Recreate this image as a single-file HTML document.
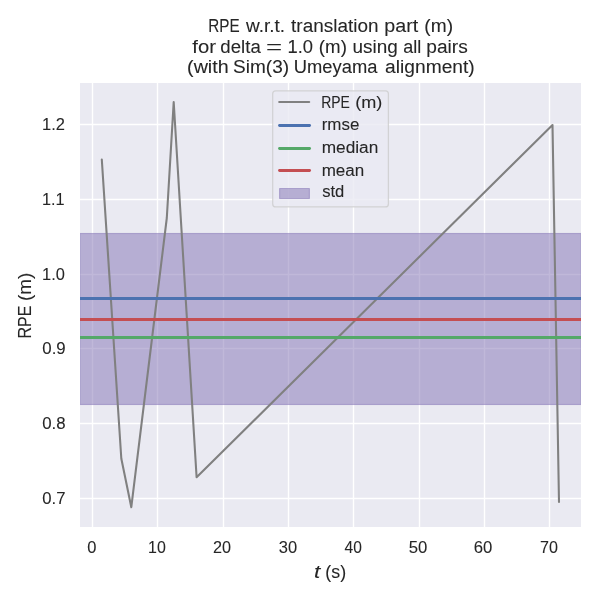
<!DOCTYPE html>
<html>
<head>
<meta charset="utf-8">
<title>RPE w.r.t. translation part (m)</title>
<style>
html,body{margin:0;padding:0;background:#ffffff;}
body{width:600px;height:600px;overflow:hidden;}
svg{display:block;will-change:transform;}
text{font-family:"Liberation Sans",sans-serif;fill:#262626;stroke:#262626;stroke-width:0.08px;}
.t12{font-size:17px;}
.t11{font-size:15.6px;}
</style>
</head>
<body>
<svg width="600" height="600" viewBox="0 0 600 600">
  <rect x="0" y="0" width="600" height="600" fill="#ffffff"/>
  <!-- axes background -->
  <rect x="80" y="83" width="501" height="444" fill="#eaeaf2"/>
  <clipPath id="ax"><rect x="80" y="83" width="501" height="444"/></clipPath>

  <!-- std band (under grid? no: grid is below, band above grid) -->
  <g clip-path="url(#ax)">
    <!-- grid -->
    <g stroke="#ffffff" stroke-width="1.39" fill="none">
      <line x1="92.5" y1="83" x2="92.5" y2="527"/>
      <line x1="157.5" y1="83" x2="157.5" y2="527"/>
      <line x1="223.5" y1="83" x2="223.5" y2="527"/>
      <line x1="288.5" y1="83" x2="288.5" y2="527"/>
      <line x1="353.5" y1="83" x2="353.5" y2="527"/>
      <line x1="419.5" y1="83" x2="419.5" y2="527"/>
      <line x1="484.5" y1="83" x2="484.5" y2="527"/>
      <line x1="549.5" y1="83" x2="549.5" y2="527"/>
      <line x1="80" y1="124.5" x2="581" y2="124.5"/>
      <line x1="80" y1="199.5" x2="581" y2="199.5"/>
      <line x1="80" y1="274.5" x2="581" y2="274.5"/>
      <line x1="80" y1="348.5" x2="581" y2="348.5"/>
      <line x1="80" y1="423.5" x2="581" y2="423.5"/>
      <line x1="80" y1="498.5" x2="581" y2="498.5"/>
    </g>
    <!-- std band -->
    <rect x="79.75" y="233.5" width="501.5" height="171" fill="#8172b3" fill-opacity="0.5" stroke="#8172b3" stroke-opacity="0.5" stroke-width="1.1"/>
    <!-- RPE line -->
    <polyline fill="none" stroke="#808080" stroke-width="2.08" stroke-linejoin="round" stroke-linecap="round"
      points="101.8,159.5 121.3,458.5 131.3,507.2 155.5,310 166.8,218 173.7,102 196.6,477.3 552.5,125 559,502"/>
    <!-- rmse / median / mean -->
    <line x1="80" y1="298.5" x2="581" y2="298.5" stroke="#4c72b0" stroke-width="2.78"/>
    <line x1="80" y1="337.5" x2="581" y2="337.5" stroke="#55a868" stroke-width="2.78"/>
    <line x1="80" y1="319.5" x2="581" y2="319.5" stroke="#c44e52" stroke-width="2.78"/>
  </g>

  <!-- legend -->
  <rect x="272.7" y="90.8" width="115.7" height="116.1" rx="3" ry="3" fill="#eaeaf2" fill-opacity="0.8" stroke="#cccccc" stroke-opacity="0.8" stroke-width="1.25"/>
  <line x1="279.2" y1="101.95" x2="309.2" y2="101.95" stroke="#808080" stroke-width="2.08" stroke-linecap="round"/>
  <line x1="279.5" y1="125.5" x2="309.6" y2="125.5" stroke="#4c72b0" stroke-width="2.78" stroke-linecap="round"/>
  <line x1="279.5" y1="148.5" x2="309.6" y2="148.5" stroke="#55a868" stroke-width="2.78" stroke-linecap="round"/>
  <line x1="279.5" y1="170.5" x2="309.6" y2="170.5" stroke="#c44e52" stroke-width="2.78" stroke-linecap="round"/>
  <rect x="279.6" y="188.5" width="29.8" height="10" fill="#8172b3" fill-opacity="0.5" stroke="#8172b3" stroke-opacity="0.5" stroke-width="1.1" stroke-linejoin="round"/>
  <!-- text -->
  <text x="208.21" y="31.6" font-size="17.5" textLength="31.35" lengthAdjust="spacingAndGlyphs">RPE</text>
  <text x="246.06" y="31.6" font-size="17.5" textLength="39.07" lengthAdjust="spacingAndGlyphs">w.r.t.</text>
  <text x="291.12" y="31.6" font-size="17.5" textLength="87.39" lengthAdjust="spacingAndGlyphs">translation</text>
  <text x="384.30" y="31.6" font-size="17.5" textLength="33.93" lengthAdjust="spacingAndGlyphs">part</text>
  <text x="424.36" y="31.6" font-size="17.5" textLength="28.68" lengthAdjust="spacingAndGlyphs">(m)</text>
  <text x="192.37" y="52.5" font-size="17.5" textLength="23.65" lengthAdjust="spacingAndGlyphs">for</text>
  <text x="220.38" y="52.5" font-size="17.5" textLength="40.37" lengthAdjust="spacingAndGlyphs">delta</text>
  <text x="265.92" y="52.5" font-size="17.5" textLength="16.15" lengthAdjust="spacingAndGlyphs">=</text>
  <text x="287.55" y="52.5" font-size="17.5" textLength="25.52" lengthAdjust="spacingAndGlyphs">1.0</text>
  <text x="318.89" y="52.5" font-size="17.5" textLength="27.99" lengthAdjust="spacingAndGlyphs">(m)</text>
  <text x="352.60" y="52.5" font-size="17.5" textLength="45.27" lengthAdjust="spacingAndGlyphs">using</text>
  <text x="403.37" y="52.5" font-size="17.5" textLength="18.02" lengthAdjust="spacingAndGlyphs">all</text>
  <text x="426.33" y="52.5" font-size="17.5" textLength="41.44" lengthAdjust="spacingAndGlyphs">pairs</text>
  <text x="187.08" y="73.4" font-size="17.5" textLength="41.57" lengthAdjust="spacingAndGlyphs">(with</text>
  <text x="233.12" y="73.4" font-size="17.5" textLength="55.97" lengthAdjust="spacingAndGlyphs">Sim(3)</text>
  <text x="293.79" y="73.4" font-size="17.5" textLength="83.61" lengthAdjust="spacingAndGlyphs">Umeyama</text>
  <text x="385.10" y="73.4" font-size="17.5" textLength="89.63" lengthAdjust="spacingAndGlyphs">alignment)</text>
  <text x="42.07" y="130.0" font-size="16.0" textLength="22.89" lengthAdjust="spacingAndGlyphs">1.2</text>
  <text x="42.09" y="205.0" font-size="16.0" textLength="22.55" lengthAdjust="spacingAndGlyphs">1.1</text>
  <text x="42.08" y="280.0" font-size="16.0" textLength="22.82" lengthAdjust="spacingAndGlyphs">1.0</text>
  <text x="42.29" y="354.0" font-size="16.0" textLength="23.38" lengthAdjust="spacingAndGlyphs">0.9</text>
  <text x="42.29" y="429.0" font-size="16.0" textLength="23.36" lengthAdjust="spacingAndGlyphs">0.8</text>
  <text x="42.29" y="504.0" font-size="16.0" textLength="23.18" lengthAdjust="spacingAndGlyphs">0.7</text>
  <text x="87.29" y="553.0" font-size="16.0" textLength="9.17" lengthAdjust="spacingAndGlyphs">0</text>
  <text x="148.11" y="553.0" font-size="16.0" textLength="17.74" lengthAdjust="spacingAndGlyphs">10</text>
  <text x="213.03" y="553.0" font-size="16.0" textLength="18.02" lengthAdjust="spacingAndGlyphs">20</text>
  <text x="278.82" y="553.0" font-size="16.0" textLength="18.33" lengthAdjust="spacingAndGlyphs">30</text>
  <text x="344.54" y="553.0" font-size="16.0" textLength="17.30" lengthAdjust="spacingAndGlyphs">40</text>
  <text x="408.65" y="553.0" font-size="16.0" textLength="18.60" lengthAdjust="spacingAndGlyphs">50</text>
  <text x="473.65" y="553.0" font-size="16.0" textLength="18.60" lengthAdjust="spacingAndGlyphs">60</text>
  <text x="540.12" y="553.0" font-size="16.0" textLength="17.92" lengthAdjust="spacingAndGlyphs">70</text>
  <text x="313.91" y="577.8" font-size="17.5" textLength="6.30" lengthAdjust="spacingAndGlyphs" font-style="italic">t</text>
  <text x="325.34" y="577.8" font-size="17.5" textLength="20.73" lengthAdjust="spacingAndGlyphs">(s)</text>
  <text x="321.20" y="107.6" font-size="16.0" textLength="28.72" lengthAdjust="spacingAndGlyphs">RPE</text>
  <text x="355.16" y="107.6" font-size="16.0" textLength="27.15" lengthAdjust="spacingAndGlyphs">(m)</text>
  <text x="321.70" y="129.8" font-size="16.0" textLength="37.65" lengthAdjust="spacingAndGlyphs">rmse</text>
  <text x="321.68" y="153.0" font-size="16.0" textLength="56.66" lengthAdjust="spacingAndGlyphs">median</text>
  <text x="321.69" y="175.7" font-size="16.0" textLength="42.60" lengthAdjust="spacingAndGlyphs">mean</text>
  <text x="322.23" y="197.3" font-size="16.0" textLength="22.13" lengthAdjust="spacingAndGlyphs">std</text>
  <text transform="translate(31.00,338.49) rotate(-90)" font-size="17.5" textLength="32.92" lengthAdjust="spacingAndGlyphs">RPE</text>
  <text transform="translate(31.00,301.02) rotate(-90)" font-size="17.5" textLength="28.26" lengthAdjust="spacingAndGlyphs">(m)</text>
</svg>
</body>
</html>
